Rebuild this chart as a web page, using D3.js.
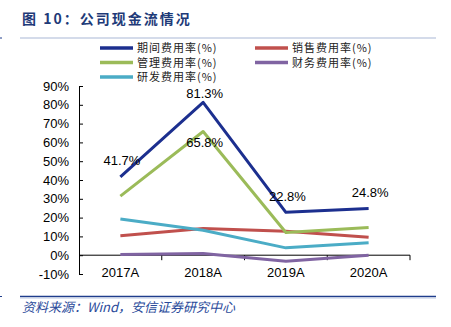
<!DOCTYPE html>
<html>
<head>
<meta charset="utf-8">
<script src="https://cdn.jsdelivr.net/npm/d3@7"></script>
<style>
  html, body { margin: 0; padding: 0; background: #fff; }
  svg { display: block; }
</style>
</head>
<body>
<div id="chart"></div>
<script>
// Categories and series values (%)
var years = ["2017A", "2018A", "2019A", "2020A"];
var seriesNames = ["期间费用率(%)", "销售费用率(%)", "管理费用率(%)", "财务费用率(%)", "研发费用率(%)"];
var periodRate  = [41.7, 81.3, 22.8, 24.8];
var salesRate   = [10.3, 14.2, 12.8, 9.6];
var adminRate   = [31.4, 65.8, 12.1, 14.7];
var financeRate = [0.4, 0.9, -3.2, 0.0];
var rdRate      = [19.2, 13.3, 3.9, 6.6];
var yTicks = [-10, 0, 10, 20, 30, 40, 50, 60, 70, 80, 90];
// Which points carry a value label
var labelled = [
  {series: 0, index: 0, place: "above"},
  {series: 0, index: 1, place: "above"},
  {series: 2, index: 1, place: "below"},
  {series: 0, index: 2, place: "above"},
  {series: 0, index: 3, place: "above"}
];

var allValues = [periodRate, salesRate, adminRate, financeRate, rdRate];
var colors = ["#1c2f8f", "#c0504d", "#9bbb59", "#8064a2", "#4bacc6"];

var W = 451, H = 327;
var plot = {left: 79, right: 410, top: 86, bottom: 274};

var svg = d3.select("#chart").append("svg")
    .attr("width", W)
    .attr("height", H);

// Title and rules
svg.append("text")
    .attr("x", 22)
    .attr("y", 24)
    .attr("font-family", "Noto Sans CJK SC")
    .attr("font-weight", "bold")
    .attr("font-size", "14px")
    .attr("letter-spacing", "2px")
    .attr("fill", "#1e3a78")
    .text("图 10：公司现金流情况");

svg.append("line")
    .attr("x1", 20).attr("x2", 436)
    .attr("y1", 38).attr("y2", 38)
    .attr("stroke", "#a9b7d6")
    .attr("stroke-width", 1.2);

svg.append("line")
    .attr("x1", 20).attr("x2", 436)
    .attr("y1", 296.5).attr("y2", 296.5)
    .attr("stroke", "#1f3d8c")
    .attr("stroke-width", 1.3);

svg.append("line")
    .attr("x1", 20).attr("x2", 436)
    .attr("y1", 298.5).attr("y2", 298.5)
    .attr("stroke", "#d3dcee")
    .attr("stroke-width", 0.8);

[38, 296.5].forEach(function(yy) {
    svg.append("line")
        .attr("x1", 0).attr("x2", 2)
        .attr("y1", yy).attr("y2", yy)
        .attr("stroke", "#1f3d8c");
});

svg.append("text")
    .attr("x", 22)
    .attr("y", 312)
    .attr("font-family", "Noto Sans CJK SC")
    .attr("font-style", "italic")
    .attr("font-size", "13px")
    .attr("fill", "#2a4a9a")
    .text("资料来源：Wind，安信证券研究中心");

// Scales
var x = d3.scaleBand().domain(years).range([plot.left, plot.right]).padding(0);
var y = d3.scaleLinear().domain([-10, 90]).range([plot.bottom, plot.top]);
var cx = function(i) { return x(years[i]) + x.bandwidth() / 2; };

// Y axis, ticks pointing inward
var yAxis = svg.append("g")
    .attr("transform", "translate(" + plot.left + ",0)")
    .call(d3.axisLeft(y).tickValues(yTicks).tickSizeInner(-4).tickSizeOuter(0).tickPadding(10)
        .tickFormat(function(d) { return d + "%"; }));
yAxis.selectAll("text")
    .attr("font-family", "Liberation Sans, Arial")
    .attr("font-size", "13px")
    .attr("fill", "#000");
yAxis.selectAll("line, path").attr("stroke", "#000");

// X axis along zero with ticks between categories
var xAxis = svg.append("g");
xAxis.append("line")
    .attr("x1", plot.left).attr("x2", plot.right)
    .attr("y1", y(0)).attr("y2", y(0))
    .attr("stroke", "#000");
xAxis.selectAll(".tick")
    .data(years)
    .enter().append("line")
    .attr("x1", function(d) { return x(d) + x.bandwidth(); })
    .attr("x2", function(d) { return x(d) + x.bandwidth(); })
    .attr("y1", y(0)).attr("y2", y(0) + 5)
    .attr("stroke", "#000");
xAxis.selectAll(".cat")
    .data(years)
    .enter().append("text")
    .attr("x", function(d) { return x(d) + x.bandwidth() / 2; })
    .attr("y", 277)
    .attr("text-anchor", "middle")
    .attr("font-family", "Liberation Sans, Arial")
    .attr("font-size", "13px")
    .attr("fill", "#000")
    .text(function(d) { return d; });

// Series lines
var line = d3.line()
    .x(function(d, i) { return cx(i); })
    .y(function(d) { return y(d); });

svg.selectAll(".series")
    .data(allValues)
    .enter().append("path")
    .attr("class", "series")
    .attr("d", line)
    .attr("fill", "none")
    .attr("stroke", function(d, i) { return colors[i]; })
    .attr("stroke-width", 3)
    .attr("stroke-linejoin", "round");

// Value labels
svg.selectAll(".label")
    .data(labelled)
    .enter().append("text")
    .attr("class", "label")
    .attr("x", function(d) { return cx(d.index) + 1.5; })
    .attr("y", function(d) {
        var py = y(allValues[d.series][d.index]);
        var c = d.place === "above" ? Math.max(py - 16, plot.top + 7) : py + 11;
        return c + 4.5;
    })
    .attr("text-anchor", "middle")
    .attr("font-family", "Liberation Sans, Arial")
    .attr("font-size", "13px")
    .attr("fill", "#000")
    .text(function(d) { return allValues[d.series][d.index].toFixed(1) + "%"; });

// Legend, two columns
var legend = svg.selectAll(".legend")
    .data(seriesNames)
    .enter().append("g")
    .attr("class", "legend")
    .attr("transform", function(d, i) {
        return "translate(" + (i % 2 === 0 ? 100 : 255) + "," + (48 + Math.floor(i / 2) * 14.5) + ")";
    });
legend.append("line")
    .attr("x1", 0).attr("x2", 33)
    .attr("stroke", function(d, i) { return colors[i]; })
    .attr("stroke-width", 3.5);
legend.append("text")
    .attr("x", 37)
    .attr("y", 4)
    .attr("font-family", "Noto Sans CJK SC")
    .attr("font-size", "11px")
    .attr("letter-spacing", "1px")
    .attr("fill", "#222")
    .text(function(d) { return d; });
</script>
</body>
</html>
